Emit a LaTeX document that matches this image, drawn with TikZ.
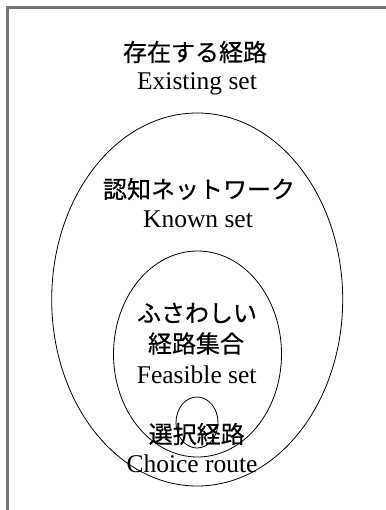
\documentclass[tikz,border=0pt]{standalone}
\usepackage{fontspec}
\setmainfont{Liberation Serif}
\newfontfamily\jpfont[FakeBold=0.6]{Noto Sans CJK JP}
\tikzset{
  frameline/.style={draw={rgb,255:red,118;green,118;blue,118}, line width=2.2pt},
  setline/.style={draw=black, line width=0.8pt},
  jptext/.style={inner sep=0pt, anchor=center, font=\jpfont\fontsize{24}{28}\selectfont},
  entext/.style={inner sep=0pt, anchor=base, font=\fontsize{25.5}{30}\selectfont},
}
\begin{document}
\begin{tikzpicture}[x=1pt, y=-1pt]
\useasboundingbox (0,0) rectangle (385,510);
% frame (Existing set)
\draw[frameline] (7.5,515) -- (7.5,7.5) -- (390,7.5);
% ellipses
\draw[setline] (197.2,299.5) ellipse [x radius=145.5, y radius=186.5];
\draw[setline] (197.5,354) ellipse [x radius=84, y radius=103];
\draw[setline] (197,422.5) ellipse [x radius=21, y radius=25.5];
% labels
\node[jptext] (ex1) at (195,52) {存在する経路};
\node[entext] (ex2) at (197,89.3) {Existing set};
\node[jptext] (kn1) at (199,189) {認知ネットワーク};
\node[entext] (kn2) at (198,227.3) {Known set};
\node[jptext] (fe1) at (197,313) {ふさわしい};
\node[jptext] (fe2) at (196,343.5) {経路集合};
\node[entext] (fe3) at (196.7,383.3) {Feasible set};
\node[jptext] (ch1) at (196.7,434) {選択経路};
\node[entext] (ch2) at (192,472.7) {Choice route};
\end{tikzpicture}
\end{document}
